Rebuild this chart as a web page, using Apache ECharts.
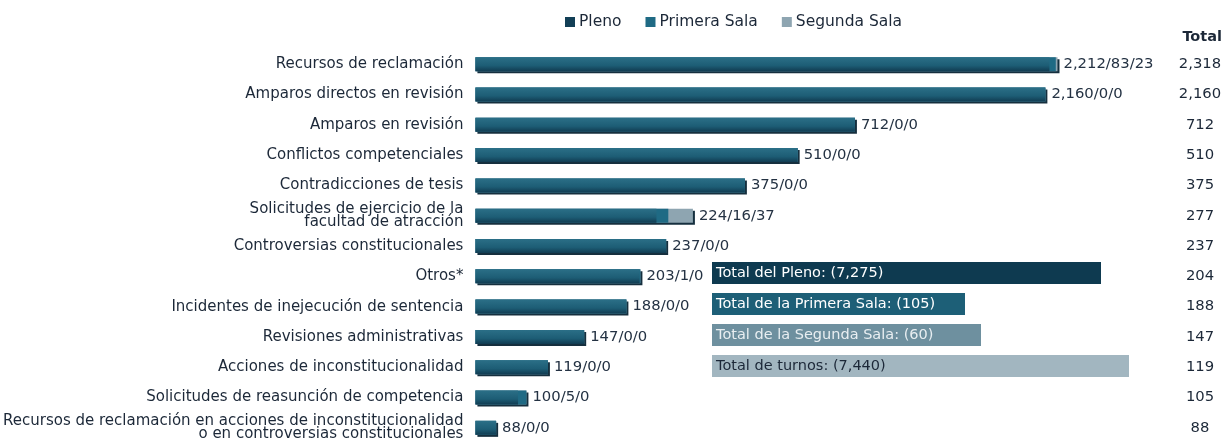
<!DOCTYPE html>
<html>
<head>
<meta charset="utf-8">
<title>Turnos</title>
<script src="https://cdn.jsdelivr.net/npm/echarts@6/dist/echarts.min.js"></script>
<style>
    html, body {margin: 0; padding: 0; background: #fff;}
    #main {width: 1225px; height: 443px;}
</style>
</head>
<body>
<div id="main"></div>
<script>
var categories = [
    'Recursos de reclamación',
    'Amparos directos en revisión',
    'Amparos en revisión',
    'Conflictos competenciales',
    'Contradicciones de tesis',
    'Solicitudes de ejercicio de la\nfacultad de atracción',
    'Controversias constitucionales',
    'Otros*',
    'Incidentes de inejecución de sentencia',
    'Revisiones administrativas',
    'Acciones de inconstitucionalidad',
    'Solicitudes de reasunción de competencia',
    'Recursos de reclamación en acciones de inconstitucionalidad\no en controversias constitucionales'
];
var pleno = [2212, 2160, 712, 510, 375, 224, 237, 203, 188, 147, 119, 100, 88];
var primera = [83, 0, 0, 0, 0, 16, 0, 1, 0, 0, 0, 5, 0];
var segunda = [23, 0, 0, 0, 0, 37, 0, 0, 0, 0, 0, 0, 0];

function fmt(n) {
    return String(n).replace(/\B(?=(\d{3})+(?!\d))/g, ',');
}
function sum(arr) {
    return arr.reduce(function (a, b) { return a + b; }, 0);
}

// barras superpuestas: cada serie llega hasta su acumulado
var hastaPrimera = pleno.map(function (v, i) { return v + primera[i]; });
var totales = hastaPrimera.map(function (v, i) { return v + segunda[i]; });

var totalPleno = sum(pleno);
var totalPrimera = sum(primera);
var totalSegunda = sum(segunda);
var totalTurnos = sum(totales);

var myChart = echarts.init(document.getElementById('main'));

var font = 'DejaVu Sans, Verdana, sans-serif';

function caja(y, w, color, texto, textColor) {
    return {
        type: 'group',
        left: 712,
        top: y,
        children: [
            {type: 'rect', shape: {x: 0, y: 0, width: w, height: 22}, style: {fill: color}},
            {type: 'text', x: 4, y: 11, style: {text: texto, fill: textColor, font: '14.5px ' + font, textVerticalAlign: 'middle'}}
        ]
    };
}

var option = {
    title: {
        text: 'Total',
        right: -2,
        top: 25,
        textStyle: {fontFamily: font, fontSize: 14.5, fontWeight: 'bold', color: '#1c2838'}
    },
    legend: {
        data: [
            {name: 'Pleno', itemStyle: {color: '#123f56'}},
            {name: 'Primera Sala', itemStyle: {color: '#1f6a84'}},
            {name: 'Segunda Sala', itemStyle: {color: '#8ea5b1'}}
        ],
        left: 560,
        top: 9,
        itemWidth: 10,
        itemHeight: 10,
        itemGap: 24,
        icon: 'rect',
        textStyle: {fontFamily: font, fontSize: 15.5, color: '#1c2838', padding: [0, 0, 0, -1]}
    },
    grid: {
        left: 475,
        right: 158,
        top: 49,
        height: 396
    },
    xAxis: {
        type: 'log',
        min: 78,
        max: 2450,
        startValue: 78,
        show: false
    },
    yAxis: [
        {
            type: 'category',
            inverse: true,
            data: categories,
            axisLine: {show: false},
            axisTick: {show: false},
            axisLabel: {
                margin: 12,
                fontFamily: font,
                fontSize: 15,
                lineHeight: 13,
                color: '#1c2838'
            }
        },
        {
            type: 'category',
            inverse: true,
            position: 'right',
            data: totales.map(fmt),
            axisLine: {show: false},
            axisTick: {show: false},
            axisLabel: {
                margin: 133,
                align: 'center',
                fontFamily: font,
                fontSize: 14.8,
                color: '#1c2838'
            }
        }
    ],
    series: [
        {
            name: 'Pleno',
            type: 'bar',
            z: 4,
            barWidth: 14,
            barGap: '-100%',
            data: pleno,
            itemStyle: {
                color: new echarts.graphic.LinearGradient(0, 0, 0, 1, [
                    {offset: 0, color: '#2b6f87'},
                    {offset: 0.6, color: '#1d5d75'},
                    {offset: 1, color: '#113c52'}
                ])
            }
        },
        {
            name: 'Primera Sala',
            type: 'bar',
            z: 3,
            barWidth: 14,
            barGap: '-100%',
            data: hastaPrimera,
            itemStyle: {color: '#1f6a84'}
        },
        {
            name: 'Segunda Sala',
            type: 'bar',
            z: 2,
            barWidth: 14,
            barGap: '-100%',
            data: totales,
            itemStyle: {
                color: '#8ea5b1',
                shadowColor: 'rgba(8,36,52,0.95)',
                shadowOffsetX: 2,
                shadowOffsetY: 2
            },
            label: {
                show: true,
                position: 'right',
                distance: 6,
                fontFamily: font,
                fontSize: 14.8,
                color: '#243243',
                formatter: function (p) {
                    var i = p.dataIndex;
                    return fmt(pleno[i]) + '/' + primera[i] + '/' + segunda[i];
                }
            }
        }
    ],
    graphic: [
        caja(262, 389, '#0e3a50', 'Total del Pleno: (' + fmt(totalPleno) + ')', '#ffffff'),
        caja(293, 253, '#1d5f77', 'Total de la Primera Sala: (' + fmt(totalPrimera) + ')', '#ffffff'),
        caja(324, 269, '#6e909f', 'Total de la Segunda Sala: (' + fmt(totalSegunda) + ')', '#e8eef1'),
        caja(355, 417, '#a2b6c0', 'Total de turnos: (' + fmt(totalTurnos) + ')', '#1c2838')
    ]
};

myChart.setOption(option);
</script>
</body>
</html>
